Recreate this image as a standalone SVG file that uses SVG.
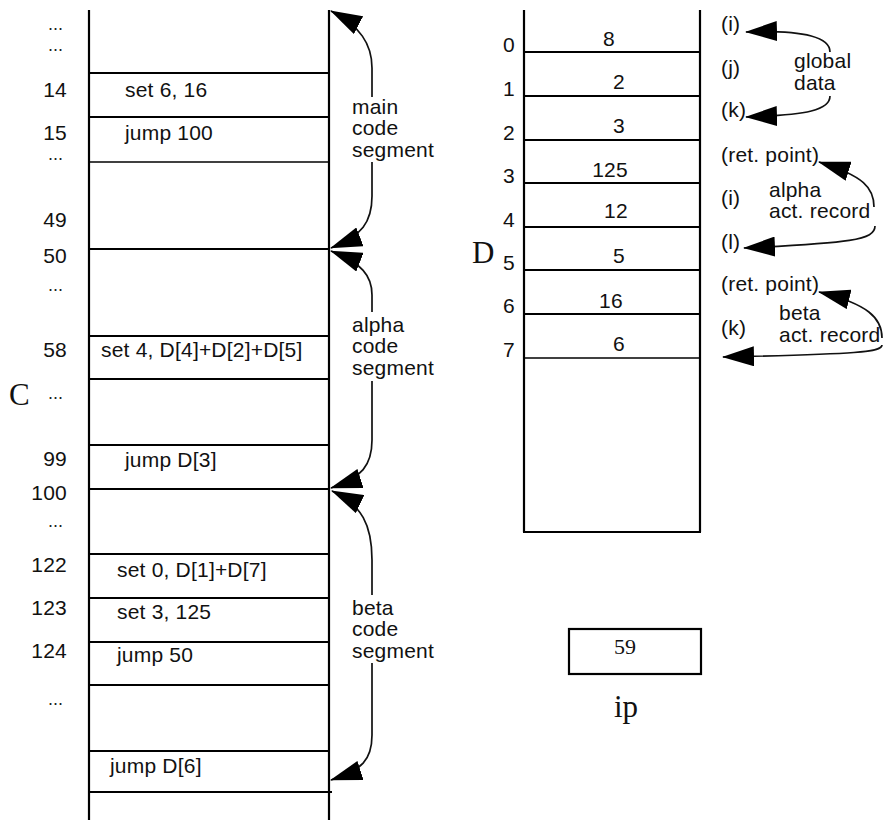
<svg xmlns="http://www.w3.org/2000/svg" width="885" height="820" viewBox="0 0 885 820">
<style>
.bg{fill:#fff}
.ln{stroke:#000;stroke-width:2.2;fill:none}
.thin{stroke:#000;stroke-width:1.3;fill:none}
.t{font-family:"Liberation Sans",Arial,sans-serif;font-size:21px;letter-spacing:0.2px;fill:#111}
.dots{font-family:"Liberation Sans",Arial,sans-serif;font-size:18px;fill:#222}
.e{text-anchor:end}
.m{text-anchor:middle}
.serif{font-family:"Liberation Serif","Times New Roman",serif;fill:#111}
.arc{stroke:#111;stroke-width:1.7;fill:none;marker-end:url(#ah)}
</style>
<defs>
<marker id="ah" markerUnits="userSpaceOnUse" viewBox="0 0 32 20" markerWidth="32" markerHeight="20" refX="31" refY="10" orient="auto">
<path d="M0,0 L32,10 L0,20 Z" fill="#000"/>
</marker>
</defs>
<rect class="bg" x="0" y="0" width="885" height="820"/>

<g id="code-memory">
<line class="ln" x1="89" y1="10" x2="89" y2="820"/>
<line class="ln" x1="329" y1="10" x2="329" y2="820"/>
<line class="ln" x1="89" y1="73" x2="329" y2="73"/>
<line class="ln" x1="89" y1="117" x2="329" y2="117"/>
<line class="thin" x1="89" y1="162" x2="329" y2="162"/>
<line class="ln" x1="89" y1="249" x2="329" y2="249"/>
<line class="ln" x1="89" y1="336" x2="329" y2="336"/>
<line class="ln" x1="89" y1="379" x2="329" y2="379"/>
<line class="ln" x1="89" y1="445" x2="329" y2="445"/>
<line class="ln" x1="89" y1="489" x2="329" y2="489"/>
<line class="ln" x1="89" y1="554" x2="329" y2="554"/>
<line class="ln" x1="89" y1="598" x2="329" y2="598"/>
<line class="ln" x1="89" y1="642" x2="329" y2="642"/>
<line class="ln" x1="89" y1="685" x2="329" y2="685"/>
<line class="ln" x1="89" y1="751" x2="329" y2="751"/>
<line class="ln" x1="89" y1="792" x2="332" y2="792"/>
<text class="t" x="125" y="97">set 6, 16</text>
<text class="t" x="125" y="140">jump 100</text>
<text class="t" x="101" y="357">set 4, D[4]+D[2]+D[5]</text>
<text class="t" x="125" y="467">jump D[3]</text>
<text class="t" x="117" y="577">set 0, D[1]+D[7]</text>
<text class="t" x="117" y="619">set 3, 125</text>
<text class="t" x="117" y="662">jump 50</text>
<text class="t" x="110" y="773">jump D[6]</text>
</g>

<g id="code-addresses">
<text class="dots e" x="63" y="30">...</text>
<text class="dots e" x="63" y="51">...</text>
<text class="t e" x="67" y="97">14</text>
<text class="t e" x="67" y="140">15</text>
<text class="dots e" x="63" y="160">...</text>
<text class="t e" x="67" y="227">49</text>
<text class="t e" x="67" y="263">50</text>
<text class="dots e" x="63" y="291">...</text>
<text class="t e" x="67" y="357">58</text>
<text class="serif" x="9" y="405" font-size="31">C</text>
<text class="dots e" x="63" y="399">...</text>
<text class="t e" x="67" y="466">99</text>
<text class="t e" x="67" y="500">100</text>
<text class="dots e" x="63" y="527">...</text>
<text class="t e" x="67" y="572">122</text>
<text class="t e" x="67" y="615">123</text>
<text class="t e" x="67" y="658">124</text>
<text class="dots e" x="63" y="705">...</text>
</g>

<g id="segment-labels">
<text class="t" x="352" y="114">main</text>
<text class="t" x="352" y="135">code</text>
<text class="t" x="352" y="157">segment</text>
<text class="t" x="352" y="332">alpha</text>
<text class="t" x="352" y="353">code</text>
<text class="t" x="352" y="375">segment</text>
<text class="t" x="352" y="615">beta</text>
<text class="t" x="352" y="636">code</text>
<text class="t" x="352" y="658">segment</text>
</g>

<g id="data-memory">
<line class="ln" x1="524" y1="10" x2="524" y2="532"/>
<line class="ln" x1="700" y1="10" x2="700" y2="532"/>
<line class="ln" x1="523" y1="532" x2="701" y2="532"/>
<line class="ln" x1="524" y1="52" x2="700" y2="52"/>
<line class="ln" x1="524" y1="96" x2="700" y2="96"/>
<line class="ln" x1="524" y1="140" x2="700" y2="140"/>
<line class="ln" x1="524" y1="183" x2="700" y2="183"/>
<line class="ln" x1="524" y1="227" x2="700" y2="227"/>
<line class="ln" x1="524" y1="270" x2="700" y2="270"/>
<line class="ln" x1="524" y1="314" x2="700" y2="314"/>
<line class="thin" x1="524" y1="358" x2="700" y2="358"/>
<text class="t m" x="609" y="46">8</text>
<text class="t m" x="619" y="89">2</text>
<text class="t m" x="619" y="133">3</text>
<text class="t m" x="610" y="177">125</text>
<text class="t m" x="616" y="218">12</text>
<text class="t m" x="619" y="263">5</text>
<text class="t m" x="611" y="308">16</text>
<text class="t m" x="619" y="351">6</text>
</g>

<g id="data-addresses">
<text class="t e" x="515" y="52">0</text>
<text class="t e" x="515" y="96">1</text>
<text class="t e" x="515" y="140">2</text>
<text class="t e" x="515" y="183">3</text>
<text class="t e" x="515" y="227">4</text>
<text class="serif" x="472" y="263" font-size="31">D</text>
<text class="t e" x="515" y="270">5</text>
<text class="t e" x="515" y="313">6</text>
<text class="t e" x="515" y="357">7</text>
</g>

<g id="data-labels">
<text class="t" x="721" y="31">(i)</text>
<text class="t" x="721" y="75">(j)</text>
<text class="t" x="721" y="117">(k)</text>
<text class="t" x="721" y="162">(ret. point)</text>
<text class="t" x="721" y="205">(i)</text>
<text class="t" x="721" y="249">(l)</text>
<text class="t" x="721" y="291">(ret. point)</text>
<text class="t" x="721" y="335">(k)</text>
<text class="t" x="794" y="68">global</text>
<text class="t" x="794" y="90">data</text>
<text class="t" x="769" y="197">alpha</text>
<text class="t" x="769" y="218">act. record</text>
<text class="t" x="779" y="320">beta</text>
<text class="t" x="779" y="342">act. record</text>
</g>

<g id="ip-register">
<rect x="569" y="629" width="132" height="45" fill="none" stroke="#000" stroke-width="2.2"/>
<text class="serif m" x="625" y="654" font-size="22">59</text>
<text class="serif m" x="626" y="717" font-size="31">ip</text>
</g>

<g id="connectors">
<path class="arc" d="M372,97 L372,68 C372,44 360,26 331,11"/>
<path class="arc" d="M372,162 L372,196 C372,222 362,236 331,248"/>
<path class="arc" d="M372,312 L372,295 C372,276 362,263 331,251"/>
<path class="arc" d="M372,381 L372,440 C372,465 362,478 331,488"/>
<path class="arc" d="M372,595 L372,560 C372,525 362,505 332,491"/>
<path class="arc" d="M372,663 L372,735 C372,760 362,770 331,780"/>
<path class="arc" d="M830,52 C830,38 808,30 746,32"/>
<path class="arc" d="M830,96 C830,110 808,115 746,117"/>
<path class="arc" d="M874,207 C874,188 864,176 819,162"/>
<path class="arc" d="M875,226 C875,240 850,243 744,248"/>
<path class="arc" d="M882,338 C882,318 868,304 819,292"/>
<path class="arc" d="M882,345 C882,352 860,354 723,357"/>
</g>
</svg>
